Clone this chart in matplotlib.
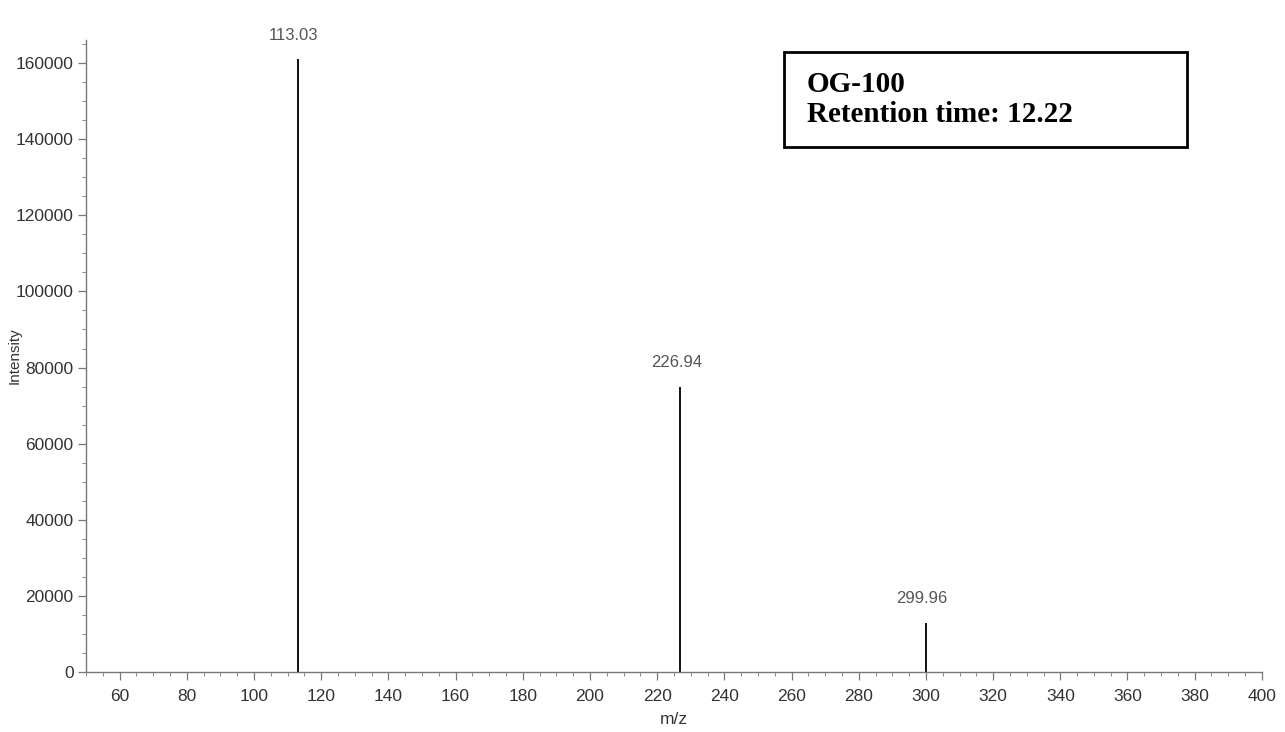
import matplotlib
matplotlib.use("Agg")
import matplotlib.pyplot as plt
from matplotlib.patches import Rectangle
from matplotlib.ticker import MultipleLocator

# Data
peak_mz = [113.03, 226.94, 299.96]
peak_intensity = [161000, 75000, 13000]
peak_labels = ["113.03", "226.94", "299.96"]

sample_name = "OG-100"
retention_time = "Retention time: 12.22"

sans = ["Liberation Sans", "DejaVu Sans"]
serif = ["Liberation Serif", "DejaVu Serif"]

fig = plt.figure(figsize=(12.85, 7.32), dpi=100)
ax = fig.add_axes([0.067, 0.082, 0.915, 0.863])

ax.vlines(peak_mz, 0, peak_intensity, color="#111111", linewidth=1.4)
for mz, inten, lab in zip(peak_mz, peak_intensity, peak_labels):
    ax.annotate(lab, (mz, inten), xytext=(-3, 12), textcoords="offset points",
                ha="center", va="bottom", fontsize=12, color="#555555", family=sans)

ax.set_xlim(50, 400)
ax.set_ylim(0, 166000)
ax.set_xticks(list(range(60, 401, 20)))
ax.xaxis.set_minor_locator(MultipleLocator(5))
ax.yaxis.set_major_locator(MultipleLocator(20000))
ax.yaxis.set_minor_locator(MultipleLocator(5000))

for s in ("top", "right"):
    ax.spines[s].set_visible(False)
for s in ("left", "bottom"):
    ax.spines[s].set_color("#777777")
    ax.spines[s].set_linewidth(1.0)

ax.tick_params(axis="both", which="major", length=6, width=0.9, color="#777777",
               labelsize=12.5, labelcolor="#333333", pad=3)
ax.tick_params(axis="x", which="major", pad=6)
ax.tick_params(axis="both", which="minor", length=3, width=0.7, color="#888888")
for lab in ax.get_xticklabels() + ax.get_yticklabels():
    lab.set_family(sans)

ax.set_xlabel("m/z", fontsize=12.5, color="#333333", family=sans, labelpad=6)
fig.text(15 / 1285, 1 - 356 / 732, "Intensity", rotation=90, fontsize=11,
         color="#333333", family=sans, ha="center", va="center")

# annotation box
fig.patches.append(Rectangle((784 / 1285, 1 - 147 / 732), (1187 - 784) / 1285, (147 - 52) / 732,
                             transform=fig.transFigure, fill=False, edgecolor="black",
                             linewidth=2.0))
fig.text(807 / 1285, 1 - 92 / 732, sample_name, fontsize=21, fontweight="bold",
         family=serif, ha="left", va="baseline")
fig.text(807 / 1285, 1 - 122 / 732, retention_time, fontsize=21, fontweight="bold",
         family=serif, ha="left", va="baseline")

fig.savefig("out.png", dpi=100, facecolor="white")
